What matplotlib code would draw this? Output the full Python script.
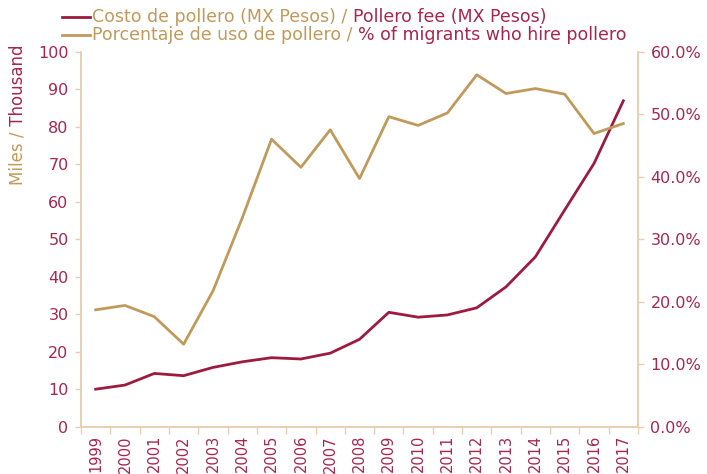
import matplotlib
matplotlib.use("Agg")
import matplotlib.pyplot as plt
from matplotlib.ticker import PercentFormatter, FixedLocator
import numpy as np

years = [str(y) for y in range(1999, 2018)]
fee_thousand = [10.0, 11.1, 14.2, 13.6, 15.8, 17.3, 18.4, 18.05, 19.6, 23.3,
                30.5, 29.2, 29.8, 31.7, 37.3, 45.3, 57.8, 70.2, 86.9]
pct_hire = [18.7, 19.4, 17.6, 13.2, 21.7, 33.4, 46.0, 41.5, 47.5, 39.7,
            49.6, 48.2, 50.2, 56.3, 53.3, 54.1, 53.2, 46.9, 48.5]

CRIMSON = "#9C1B3F"
CRIMSON_TXT = "#A8264D"
TAN = "#C19A5B"
SPINE = "#E9CFB0"

plt.rcParams['font.family'] = ['DejaVu Sans']

fig = plt.figure(figsize=(7.07, 4.74), dpi=100)
ax = fig.add_axes([0.1146, 0.0998, 0.7878, 0.7912])
ax2 = ax.twinx()

x = np.arange(len(years))
ax.plot(x, fee_thousand, color=CRIMSON, lw=2.0, zorder=3)
ax2.plot(x, pct_hire, color=TAN, lw=2.0, zorder=2)

ax.set_xlim(-0.5, len(years) - 0.5)
ax.set_ylim(0, 100)
ax.set_yticks(range(0, 101, 10))
ax2.set_ylim(0, 60)
ax2.set_yticks(range(0, 61, 10))
ax2.yaxis.set_major_formatter(PercentFormatter(decimals=1))

ax.set_xticks(x)
ax.set_xticklabels(years, rotation=90)
ax.xaxis.set_minor_locator(FixedLocator(np.arange(-0.5, len(years), 1.0)))
ax.tick_params(axis='x', which='major', length=0, pad=6, labelsize=10.5, labelcolor=CRIMSON_TXT)
ax.tick_params(axis='x', which='minor', length=5, color=SPINE, width=1)
ax.tick_params(axis='y', length=4, color=SPINE, width=1, labelsize=11.5, labelcolor=CRIMSON_TXT, pad=5)
ax2.tick_params(axis='y', length=4, color=SPINE, width=1, labelsize=11.5, labelcolor=CRIMSON_TXT, pad=5)

for a in (ax, ax2):
    a.spines['top'].set_visible(False)
    for s in ('left', 'right', 'bottom'):
        a.spines[s].set_color(SPINE)
        a.spines[s].set_linewidth(1.2)

# Y label with two colours
t1 = fig.text(0.025, 0.61, "Miles /", rotation=90, color=TAN, fontsize=12,
              ha='center', va='bottom')
fig.canvas.draw()
ax.annotate(" Thousand", xy=(0.5, 1.0), xycoords=t1, rotation=90, color=CRIMSON_TXT,
            fontsize=12, ha='center', va='bottom')

# Legend built manually
fs = 12.5
rows = [
    (CRIMSON, "Costo de pollero (MX Pesos) / ", "Pollero fee (MX Pesos)", 0.964),
    (TAN, "Porcentaje de uso de pollero / ", "% of migrants who hire pollero", 0.926),
]
for col, part1, part2, yy in rows:
    fig.add_artist(plt.Line2D([0.087, 0.128], [yy, yy], color=col, lw=2.0,
                              transform=fig.transFigure))
    ta = fig.text(0.130, yy, part1, color=TAN, fontsize=fs, ha='left', va='center')
    ax.annotate(part2, xy=(1.0, 0.5), xycoords=ta, color=CRIMSON_TXT, fontsize=fs,
                ha='left', va='center')

fig.savefig("out.png", dpi=100)
